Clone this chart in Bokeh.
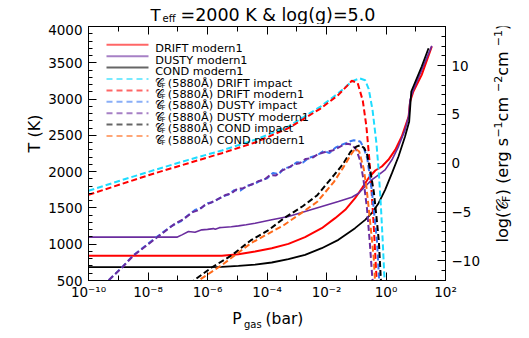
import math
from bokeh.plotting import figure
from bokeh.layouts import column, row
from bokeh.models import (Range1d, LinearAxis, LogAxis, FixedTicker, Label, Arrow)
from bokeh.embed import file_html
from bokeh.resources import INLINE

FONT = "DejaVu Sans"

# ---------------- data (log10 of P in bar) ----------------
# T-P profiles (left axis, K)
drift_logp = [-10, -7, -5.52, -4.96, -4.40, -3.84, -3.28, -2.72, -2.16, -1.71, -1.37,
              -1.04, -0.81, -0.59, -0.36, -0.14, 0.08, 0.31, 0.53, 0.76, 0.81, 0.92,
              1.20, 1.54]
drift_t = [840, 840, 842, 863, 900, 945, 1005, 1097, 1221, 1359, 1474,
           1634, 1772, 1910, 2016, 2071, 2163, 2300, 2484, 2760, 2966, 3104,
           3334, 3724]

dusty_logp = [-10, -7.03, -6.86, -6.64, -6.42, -6.19, -6.0, -5.8, -5.74, -5.6, -5.52,
              -5.2, -4.96, -4.7, -4.40, -3.84, -3.28, -2.72, -2.16, -1.60, -1.15,
              -0.92, -0.70, -0.48, -0.25, -0.03, 0.20, 0.42, 0.64, 0.76, 0.81, 0.92,
              1.20, 1.54]
dusty_t = [1097, 1097, 1129, 1175, 1165, 1198, 1205, 1215, 1205, 1228, 1230,
           1240, 1253, 1268, 1290, 1336, 1382, 1451, 1520, 1589, 1648,
           1703, 1795, 1887, 1956, 2025, 2163, 2346, 2576, 2760, 2989, 3127,
           3403, 3733]

cond_logp = [-10, -6.0, -5.52, -4.96, -4.40, -3.84, -3.28, -2.72, -2.16, -1.60, -1.04,
             -0.70, -0.48, -0.25, -0.03, 0.20, 0.42, 0.64, 0.78, 0.85, 1.20, 1.43]
cond_t = [684, 684, 688, 702, 720, 748, 794, 854, 945, 1060, 1221,
          1336, 1428, 1566, 1749, 1979, 2209, 2484, 2691, 3104, 3449, 3701]

# log flux at 5880 A (right axis)
f_drift_imp_logp = [-10, -8.88, -7.76, -6.64, -5.52, -4.40, -3.28, -2.2, -1.60, -1.15,
                    -0.89, -0.70, -0.58, -0.45, -0.32, -0.24, -0.17, -0.11, -0.06, -0.02]
f_drift_imp = [-2.82, -1.72, -0.67, 0.35, 1.31, 2.40, 3.76, 5.8, 7.18, 8.37,
               8.70, 8.50, 7.6, 5.4, 2.0, -1.0, -4.5, -8.0, -11.3, -13.0]

f_drift_mod_logp = [-10, -8.88, -7.76, -6.64, -5.52, -4.40, -3.28, -2.2, -1.60, -1.30,
                    -1.15, -0.95, -0.78, -0.66, -0.56, -0.48, -0.41, -0.35, -0.30]
f_drift_mod = [-3.23, -2.11, -1.01, 0.01, 1.03, 2.13, 3.59, 5.6, 7.0, 7.95,
               8.45, 8.2, 6.4, 3.8, 0.4, -3.1, -6.5, -10.0, -12.8]

f_dusty_imp_logp = [-9.45, -9.33, -8.88, -8.49, -7.70, -7.2, -6.9, -6.64, -6.4, -6.2,
                    -6.0, -5.8, -5.52, -5.3, -5.1, -4.9, -4.7, -4.4, -4.2, -4.0, -3.8,
                    -3.6, -3.44, -3.2, -3.0, -2.8, -2.6, -2.31, -2.1, -1.9, -1.7, -1.53,
                    -1.35, -1.2, -1.08, -0.95, -0.86, -0.75, -0.63, -0.47, -0.30, -0.24,
                    -0.20]
f_dusty_imp = [-12.8, -12.0, -10.67, -9.41, -7.53, -6.4, -5.95, -5.3, -4.75, -4.55,
               -4.1, -3.95, -3.43, -3.2, -2.75, -2.8, -2.35, -2.07, -1.75, -1.55, -1.0,
               -1.1, -0.54, -0.35, 0.1, 0.05, 0.55, 0.83, 1.25, 1.05, 1.6, 1.85,
               2.05, 2.25, 2.36, 2.3, 2.2, 1.6, 0.49, -2.92, -8.04, -11.5,
               -13.0]

f_dusty_mod_logp = [-9.45, -9.33, -8.88, -8.49, -7.70, -7.1, -6.8, -6.5, -6.3, -6.1,
                    -5.9, -5.6, -5.4, -5.2, -5.0, -4.8, -4.5, -4.3, -4.1, -3.9, -3.7,
                    -3.5, -3.3, -3.1, -2.9, -2.7, -2.5, -2.3, -2.0, -1.8, -1.6, -1.45,
                    -1.3, -1.15, -1.0, -0.87, -0.76, -0.64, -0.55, -0.47, -0.42]
f_dusty_mod = [-12.8, -12.0, -10.7, -9.45, -7.6, -6.2, -5.7, -5.0, -4.8, -4.3,
               -4.05, -3.6, -3.25, -3.1, -2.6, -2.55, -2.15, -1.85, -1.7, -1.2, -1.25,
               -0.75, -0.5, -0.1, 0.0, 0.45, 0.5, 0.9, 1.2, 1.3, 1.6, 1.85,
               2.0, 1.9, 1.4, 0.3, -1.6, -4.6, -7.9, -11.3, -13.0]

f_cond_imp_logp = [-6.6, -6.46, -5.86, -5.18, -4.55, -3.95, -3.44, -2.8, -2.31, -1.75,
                   -1.45, -1.19, -1.0, -0.86, -0.73, -0.63, -0.52, -0.41, -0.32, -0.24,
                   -0.18, -0.15]
f_cond_imp = [-12.4, -12.0, -10.67, -9.41, -7.9, -6.85, -5.65, -4.4, -3.27, -1.22,
              -0.1, 1.17, 1.7, 1.85, 1.55, 0.83, -0.9, -2.92, -5.5, -8.0,
              -11.5, -13.0]

f_cond_mod_logp = [-6.45, -6.30, -5.52, -4.55, -3.95, -3.44, -2.8, -2.31, -1.75, -1.45,
                   -1.19, -1.03, -0.90, -0.75, -0.66, -0.58, -0.49, -0.41, -0.36]
f_cond_mod = [-12.5, -12.0, -10.43, -8.2, -7.19, -6.34, -5.0, -3.94, -1.9, -0.5,
              0.83, 1.51, 1.2, -0.54, -2.4, -4.63, -7.3, -9.75, -12.5]

# axes
x_tick_exps = [-10, -8, -6, -4, -2, 0, 2]
x_tick_labels = ["10\u207b\u00b9\u2070", "10\u207b\u2078", "10\u207b\u2076", "10\u207b\u2074",
                 "10\u207b\u00b2", "10\u2070", "10\u00b2"]
x_minor_exps = list(range(-10, 3))
t_ticks = [500, 1000, 1500, 2000, 2500, 3000, 3500, 4000]
t_minor = list(range(500, 4001, 100))
f_ticks = [-10, -5, 0, 5, 10]
f_tick_labels = ["\u221210", "\u22125", "0", "5", "10"]
f_minor = list(range(-12, 15))

SYM = "\U0001D49E"
legend_models = ["DRIFT modern1", "DUSTY modern1", "COND modern1"]
legend_fluxes = ["(5880\u00c5) DRIFT impact", "(5880\u00c5) DRIFT modern1",
                 "(5880\u00c5) DUSTY impact", "(5880\u00c5) DUSTY modern1",
                 "(5880\u00c5) COND impact", "(5880\u00c5) COND modern1"]

RED = "#ff0000"
PURPLE = "#6a2c9e"
BLACK = "#000000"
CYAN = "#1edcff"
BLUE = "#3a78f2"
ORANGE = "#ff6a1a"


def to_p(lp):
    return [10.0 ** v for v in lp]


# ---------------- main plot ----------------
p = figure(frame_width=357, frame_height=254, x_axis_type="log",
           x_range=Range1d(1e-10, 1e2), y_range=Range1d(500, 4000),
           output_backend="svg", toolbar_location=None, title=None,
           min_border_left=44, min_border_right=35, min_border_top=2,
           min_border_bottom=22)
p.extra_y_ranges = {"flux": Range1d(-12, 14)}
p.xgrid.visible = False
p.ygrid.visible = False
p.outline_line_color = "black"
p.outline_line_width = 1
p.background_fill_color = "white"
p.border_fill_color = "white"


def style_axis(ax, size="13.5px"):
    ax.axis_line_color = "black"
    ax.major_tick_line_color = "black"
    ax.minor_tick_line_color = "black"
    ax.major_tick_in = 8
    ax.major_tick_out = 0
    ax.minor_tick_in = 4
    ax.minor_tick_out = 0
    ax.major_label_text_font = FONT
    ax.major_label_text_font_size = size
    ax.major_label_text_color = "black"


xmaj = [10.0 ** e for e in x_tick_exps]
xmin = [10.0 ** e for e in x_minor_exps]
xa = p.xaxis[0]
xa.ticker = FixedTicker(ticks=xmaj, minor_ticks=xmin)
xa.major_label_overrides = {t: l for t, l in zip(xmaj, x_tick_labels)}
style_axis(xa)
xa.minor_tick_in = 5
xa.major_label_standoff = 3

ya = p.yaxis[0]
ya.ticker = FixedTicker(ticks=t_ticks, minor_ticks=t_minor)
style_axis(ya)
ya.major_label_standoff = 6

ra = LinearAxis(y_range_name="flux",
                ticker=FixedTicker(ticks=f_ticks, minor_ticks=f_minor))
ra.major_label_overrides = {t: l for t, l in zip(f_ticks, f_tick_labels)}
style_axis(ra)
ra.major_label_standoff = 6
p.add_layout(ra, "right")

ta = LogAxis(ticker=FixedTicker(ticks=xmaj, minor_ticks=xmin))
style_axis(ta, size="1px")
ta.minor_tick_in = 5
ta.major_label_text_alpha = 0
ta.major_label_standoff = 0
p.add_layout(ta, "above")

# curves
p.line(to_p(drift_logp), drift_t, line_color=RED, line_width=2)
p.line(to_p(dusty_logp), dusty_t, line_color=PURPLE, line_width=1.6)
p.line(to_p(cond_logp), cond_t, line_color=BLACK, line_width=1.8)

DASH = "6 3"
dashed = [(f_drift_imp_logp, f_drift_imp, CYAN),
          (f_drift_mod_logp, f_drift_mod, RED),
          (f_dusty_imp_logp, f_dusty_imp, BLUE),
          (f_dusty_mod_logp, f_dusty_mod, PURPLE),
          (f_cond_imp_logp, f_cond_imp, BLACK),
          (f_cond_mod_logp, f_cond_mod, ORANGE)]
for lp, fv, c in dashed:
    p.line(to_p(lp), fv, y_range_name="flux", line_color=c, line_width=2,
           line_dash=DASH)


def lab(fig, text, x, y, size, angle=0, align="left", baseline="alphabetic"):
    fig.add_layout(Label(x=x, y=y, x_units="screen", y_units="screen", text=text,
                         text_font=FONT, text_font_size=size, text_color="black",
                         text_align=align, text_baseline=baseline, angle=angle))


# manual legend (frame screen units: x from left, y up from bottom)
styles = [(RED, None), (PURPLE, None), (BLACK, None),
          (CYAN, "6 4"), (RED, "6 4"), (BLUE, "6 4"),
          (PURPLE, "6 4"), (BLACK, "6 4"), (ORANGE, "6 4")]
row0, step = 235.7, 11.4
for i, (c, d) in enumerate(styles):
    yc = row0 - i * step
    kw = dict(line_color=c, line_width=2, line_alpha=0.6)
    if d:
        kw["line_dash"] = d
    p.add_layout(Arrow(end=None, start=None, x_start=18, y_start=yc, x_end=60,
                       y_end=yc, start_units="screen", end_units="screen", **kw))
    yb = yc - 4
    if i < 3:
        lab(p, legend_models[i], 66.7, yb, "11.3px")
    else:
        lab(p, SYM, 66.7, yb, "11.3px")
        lab(p, "F", 73.0, yb - 2.5, "7px")
        lab(p, legend_fluxes[i - 3], 79.3, yb, "11.3px")


# ---------------- text panels around the plot ----------------
def text_fig(w, h):
    f = figure(width=w, height=h, x_range=Range1d(0, 1), y_range=Range1d(0, 1),
               output_backend="svg", toolbar_location=None, title=None,
               x_axis_location=None, y_axis_location=None,
               min_border=0, min_border_left=0, min_border_right=0,
               min_border_top=0, min_border_bottom=0)
    f.outline_line_color = None
    f.background_fill_color = "white"
    f.border_fill_color = "white"
    f.grid.visible = False
    return f


title_fig = text_fig(527, 24)
lab(title_fig, "T", 150, 9.5, "16.5px")
lab(title_fig, "eff", 162, 5.8, "10px")
lab(title_fig, "=2000 K & log(g)=5.0", 180, 9.5, "17.5px")

left_fig = text_fig(44, 278)
lab(left_fig, "T (K)", 33.5, 147, "16px", angle=math.pi / 2, align="center")

right_fig = text_fig(47, 278)
R_MAIN, R_SUB, R_SUP = "16px", "11px", "11px"
pieces = [("log(" + SYM, R_MAIN, 0, 40.5),
          ("F", R_SUB, 3.5, 6.8),
          (") (erg s", R_MAIN, 0, 57.6),
          ("\u22121", R_SUP, -5.0, 16.2),
          (" cm", R_MAIN, 0, 29.5),
          ("\u22122", R_SUP, -5.0, 16.2),
          (" cm", R_MAIN, 0, 29.5),
          ("\u22121", R_SUP, -5.0, 16.2),
          (")", R_MAIN, 0, 6.2)]
ypos = 38
for txt, sz, dx, w in pieces:
    lab(right_fig, txt, 20 + dx, ypos, sz, angle=math.pi / 2)
    ypos += w

xlabel_fig = text_fig(526, 30)
lab(xlabel_fig, "P", 231.7, 13.5, "15.5px")
lab(xlabel_fig, "gas", 243.5, 8.5, "10px")
lab(xlabel_fig, "(bar)", 265, 13.5, "15.5px")

layout = column(title_fig, row(left_fig, p, right_fig, spacing=0), xlabel_fig,
                spacing=0)

open("out.html", "w").write(file_html(layout, INLINE))
